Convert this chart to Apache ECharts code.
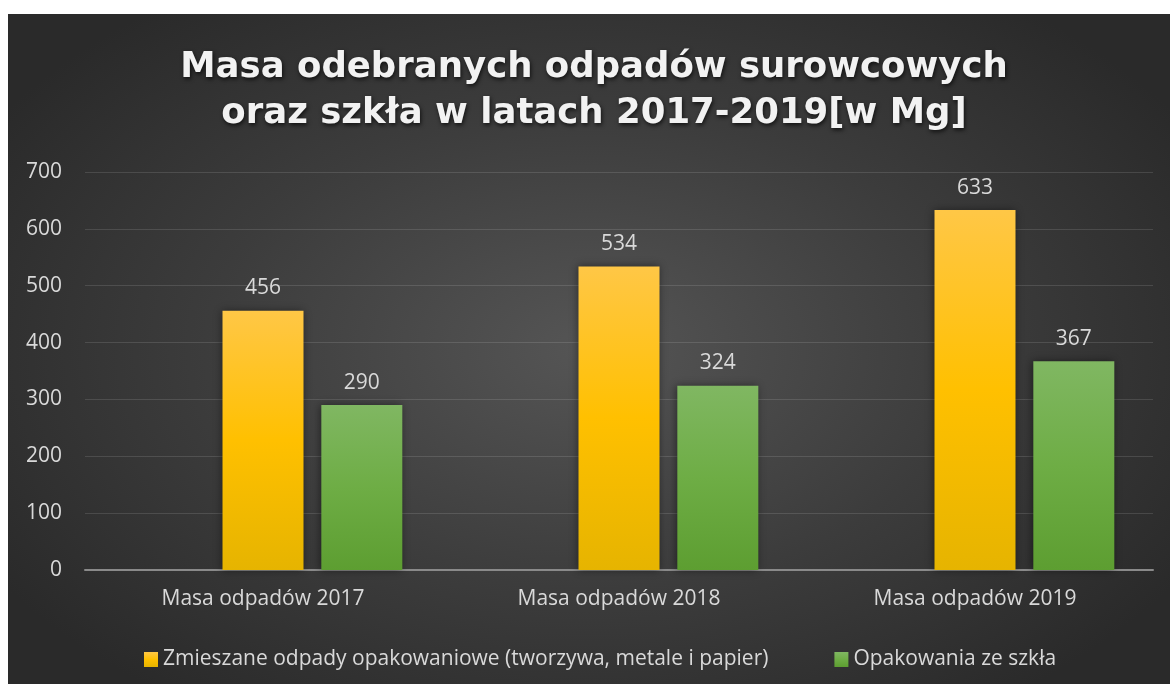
<!DOCTYPE html>
<html>
<head>
<meta charset="utf-8">
<script src="https://cdn.jsdelivr.net/npm/echarts@6/dist/echarts.min.js"></script>
<style>
  html, body {
    margin: 0;
    padding: 0;
    background: #fff;
  }
  #chart {
    position: absolute;
    left: 8px;
    top: 14px;
    width: 1162px;
    height: 670px;
    background: radial-gradient(ellipse 60% 65% at 50% 50%, #555555 0%, #3c3c3c 55%, #2a2a2a 100%);
  }
</style>
</head>
<body>
<div id="chart"></div>
<script>
  // dane
  var categories = ['Masa odpadów 2017', 'Masa odpadów 2018', 'Masa odpadów 2019']
  var seriesNames = ['Zmieszane odpady opakowaniowe (tworzywa, metale i papier)', 'Opakowania ze szkła']
  var mixedWaste = [456, 534, 633]
  var glassWaste = [290, 324, 367]
  var emptySeries = ['-', '-', '-']   // pusta seria w Excelu (zajmuje miejsce po lewej)
  var yTicks = [0, 100, 200, 300, 400, 500, 600, 700]

  var chart = echarts.init(document.getElementById('chart'))

  var labelColor = '#d9d9d9'
  var font = '"Open Sans", "Noto Sans", sans-serif'
  var fontSize = 21

  function vGradient(stops) {
    return new echarts.graphic.LinearGradient(0, 0, 0, 1, stops.map(function (c, i) {
      return { offset: i / (stops.length - 1), color: c }
    }))
  }

  var barLabel = {
    show: true,
    position: 'top',
    distance: 12,
    color: labelColor,
    fontFamily: font,
    fontSize: fontSize
  }

  chart.setOption({
    backgroundColor: 'transparent',
    title: {
      text: 'Masa odebranych odpadów surowcowych\noraz szkła w latach 2017-2019[w Mg]',
      left: 581,
      textAlign: 'center',
      top: 26,
      textStyle: {
        color: '#f2f2f2',
        fontFamily: '"DejaVu Sans", sans-serif',
        fontWeight: 'bold',
        fontSize: 35.5,
        lineHeight: 46,
        textShadowColor: 'rgba(0,0,0,0.7)',
        textShadowBlur: 4,
        textShadowOffsetX: 1,
        textShadowOffsetY: 2
      }
    },
    legend: {
      data: seriesNames,
      left: 131,
      top: 630,
      icon: 'rect',
      itemWidth: 14,
      itemHeight: 15,
      itemGap: 66,
      textStyle: {
        color: labelColor,
        fontFamily: font,
        fontSize: fontSize
      }
    },
    grid: {
      left: 77,
      right: 17,
      top: 158,
      bottom: 114,
      containLabel: false
    },
    xAxis: {
      type: 'category',
      data: categories,
      axisTick: { show: false },
      axisLine: {
        lineStyle: { color: '#8a8a8a', width: 2 }
      },
      axisLabel: {
        margin: 19,
        color: labelColor,
        fontFamily: font,
        fontSize: fontSize
      }
    },
    yAxis: {
      type: 'value',
      min: yTicks[0],
      max: yTicks[yTicks.length - 1],
      interval: 100,
      axisLine: { show: false },
      axisTick: { show: false },
      axisLabel: {
        margin: 23,
        color: labelColor,
        fontFamily: font,
        fontSize: fontSize
      },
      splitLine: {
        lineStyle: { color: 'rgba(255,255,255,0.12)', width: 1 }
      }
    },
    series: [
      {
        name: '',
        type: 'bar',
        barWidth: 81,
        barGap: '22%',
        data: emptySeries
      },
      {
        name: seriesNames[0],
        type: 'bar',
        barWidth: 81,
        barGap: '22%',
        itemStyle: {
          color: vGradient(['#ffc746', '#ffc000', '#e6b400']),
          shadowColor: 'rgba(0,0,0,0.45)',
          shadowBlur: 8,
          shadowOffsetX: -1
        },
        label: barLabel,
        data: mixedWaste
      },
      {
        name: seriesNames[1],
        type: 'bar',
        barWidth: 81,
        barGap: '22%',
        itemStyle: {
          color: vGradient(['#80b762', '#6ead45', '#5d9e31']),
          shadowColor: 'rgba(0,0,0,0.45)',
          shadowBlur: 8,
          shadowOffsetX: -1
        },
        label: barLabel,
        data: glassWaste
      }
    ]
  })
</script>
</body>
</html>
